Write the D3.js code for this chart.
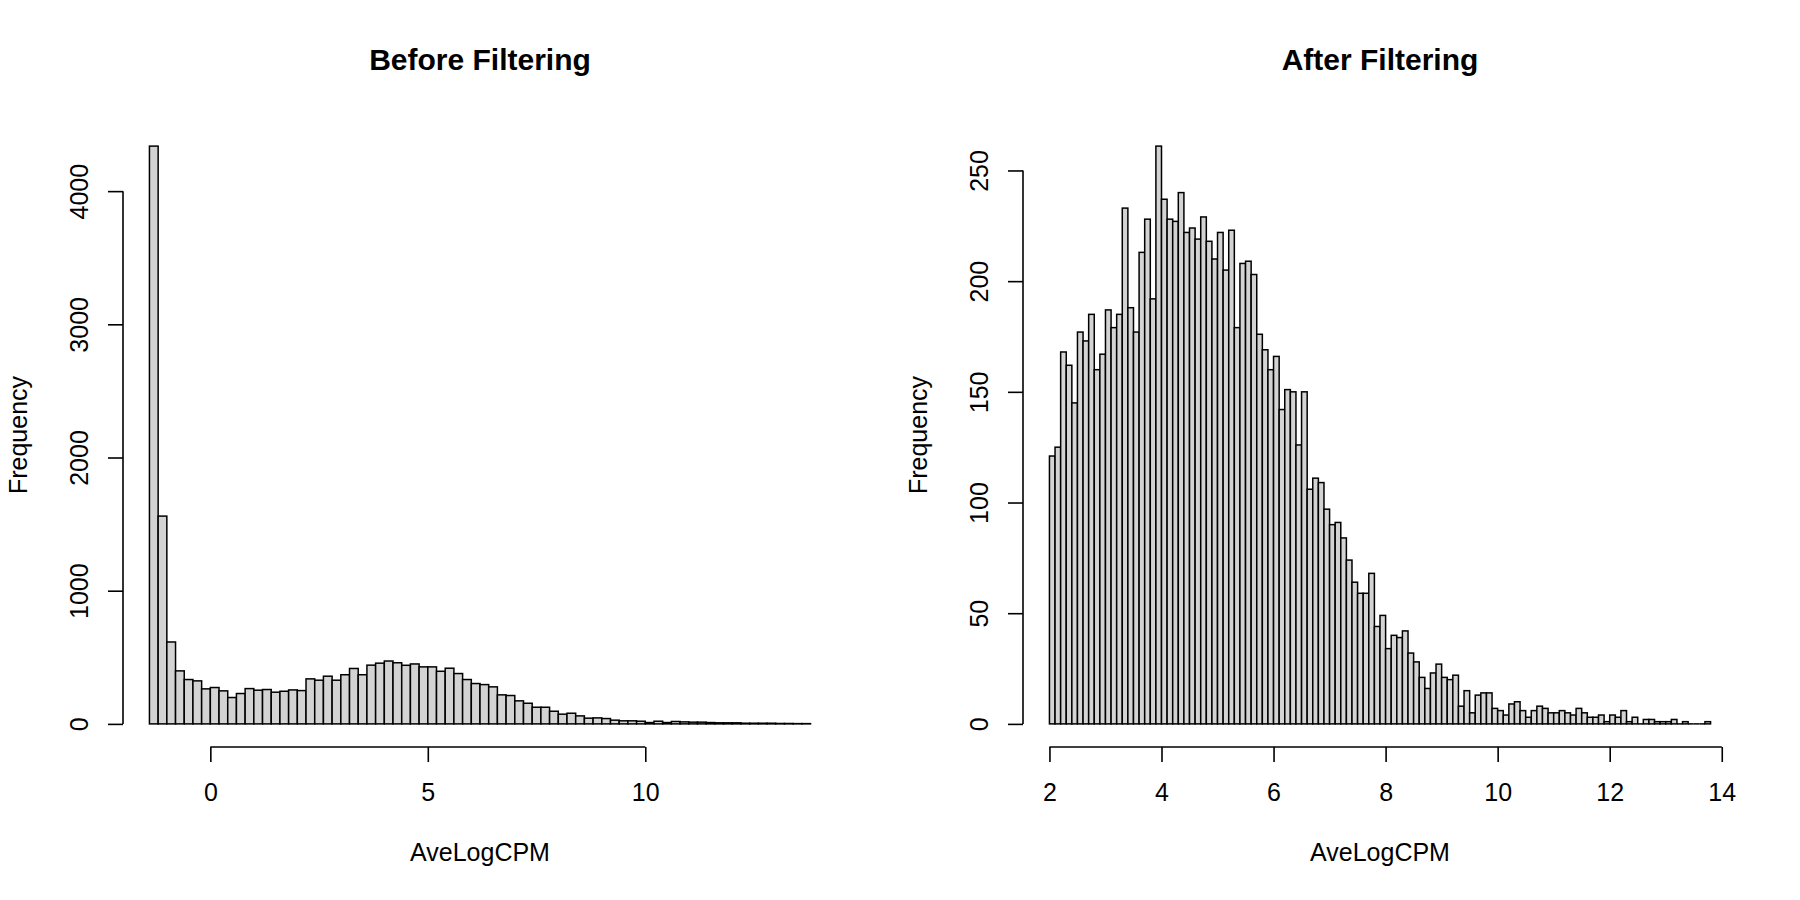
<!DOCTYPE html>
<html>
<head>
<meta charset="utf-8">
<script src="https://cdn.jsdelivr.net/npm/d3@7"></script>
<style>
body { margin: 0; background: #fff; }
text { font-family: "Liberation Sans", Arial, Helvetica, sans-serif; font-size: 25px; fill: #000; }
.title { font-size: 30px; font-weight: bold; }
.bar { fill: #d3d3d3; stroke: #000; stroke-width: 1.5; }
.empty { stroke: #000; stroke-width: 1.5; }
.axis line { stroke: #000; stroke-width: 1.6; }
</style>
</head>
<body>
<script>
// bin edges and counts
var beforeBreaks = [-1.4, -1.2, -1.0, -0.8, -0.6, -0.4, -0.2, 0, 0.2, 0.4,
    0.6, 0.8, 1.0, 1.2, 1.4, 1.6, 1.8, 2.0, 2.2, 2.4,
    2.6, 2.8, 3.0, 3.2, 3.4, 3.6, 3.8, 4.0, 4.2, 4.4,
    4.6, 4.8, 5.0, 5.2, 5.4, 5.6, 5.8, 6.0, 6.2, 6.4,
    6.6, 6.8, 7.0, 7.2, 7.4, 7.6, 7.8, 8.0, 8.2, 8.4,
    8.6, 8.8, 9.0, 9.2, 9.4, 9.6, 9.8, 10.0, 10.2, 10.4,
    10.6, 10.8, 11.0, 11.2, 11.4, 11.6, 11.8, 12.0, 12.2, 12.4,
    12.6, 12.8, 13.0, 13.2, 13.4, 13.6, 13.8];

var beforeCounts = [4338, 1560, 615, 398, 333, 323, 263, 273, 248, 198,
    228, 265, 253, 258, 238, 245, 255, 250, 338, 328,
    358, 328, 369, 416, 369, 441, 456, 472, 459,
    440, 450, 428, 428, 395, 418, 378, 333, 303, 295, 278,
    218, 213, 173, 155, 125, 125, 95, 73, 80, 60,
    43, 45, 40, 28, 23, 23, 20, 10, 20, 10,
    18, 15, 13, 13, 10, 8, 8, 8, 5, 5,
    5, 5, 3, 3, 2, 2];

var afterBreaks = [2.0, 2.1, 2.2, 2.3, 2.4, 2.5, 2.6, 2.7, 2.8, 2.9,
    3.0, 3.1, 3.2, 3.3, 3.4, 3.5, 3.6, 3.7, 3.8, 3.9,
    4.0, 4.1, 4.2, 4.3, 4.4, 4.5, 4.6, 4.7, 4.8, 4.9,
    5.0, 5.1, 5.2, 5.3, 5.4, 5.5, 5.6, 5.7, 5.8, 5.9,
    6.0, 6.1, 6.2, 6.3, 6.4, 6.5, 6.6, 6.7, 6.8, 6.9,
    7.0, 7.1, 7.2, 7.3, 7.4, 7.5, 7.6, 7.7, 7.8, 7.9,
    8.0, 8.1, 8.2, 8.3, 8.4, 8.5, 8.6, 8.7, 8.8, 8.9,
    9.0, 9.1, 9.2, 9.3, 9.4, 9.5, 9.6, 9.7, 9.8, 9.9,
    10.0, 10.1, 10.2, 10.3, 10.4, 10.5, 10.6, 10.7, 10.8, 10.9,
    11.0, 11.1, 11.2, 11.3, 11.4, 11.5, 11.6, 11.7, 11.8, 11.9,
    12.0, 12.1, 12.2, 12.3, 12.4, 12.5, 12.6, 12.7, 12.8, 12.9,
    13.0, 13.1, 13.2, 13.3, 13.4, 13.5, 13.6, 13.7, 13.8];

var afterCounts = [121, 125, 168, 162, 145, 177, 173, 185, 160, 167,
    187, 179, 185, 233, 188, 177, 213, 228, 192, 261,
    237, 228, 227, 240, 222, 224, 219, 229, 218, 210,
    222, 205, 223, 179, 208, 209,
    203, 176, 169, 160, 166, 142, 151, 150, 126, 150,
    106, 111, 109, 97, 90, 91, 84, 74, 64, 59,
    59, 68, 44, 49, 34, 40, 39, 42, 32, 28,
    21, 16, 23, 27, 21, 20, 22, 8, 15, 5,
    13, 14, 14, 7, 6,
    4, 9, 10, 6, 3, 6, 8, 7, 5, 5,
    6, 5, 4, 7, 5, 3, 3, 4, 1, 4,
    3, 6, 1, 3, 0, 2, 2, 1, 1, 1,
    2, 0, 1, 0, 0, 0, 1];

var beforeXTicks = [0, 5, 10];
var beforeYTicks = [0, 1000, 2000, 3000, 4000];
var afterXTicks = [2, 4, 6, 8, 10, 12, 14];
var afterYTicks = [0, 50, 100, 150, 200, 250];

var titles = ['Before Filtering', 'After Filtering'];
var xLabel = 'AveLogCPM';
var yLabel = 'Frequency';

var svgWidth = 1800, svgHeight = 900;
var panelWidth = 900;
// plot region inside each panel (R default margins)
var plotLeft = 123, plotRight = 837, plotTop = 123, plotBottom = 747;

var svg = d3.select('body')
    .append('svg')
    .attr('width', svgWidth)
    .attr('height', svgHeight);

function drawHist(breaks, counts, xTicks, yTicks, title, offset) {
    var lo = breaks[0], hi = breaks[breaks.length - 1];
    var span = hi - lo;
    var maxCount = d3.max(counts);

    var xScale = d3.scaleLinear()
        .domain([lo - 0.04 * span, hi + 0.04 * span])
        .range([offset + plotLeft, offset + plotRight]);

    var yScale = d3.scaleLinear()
        .domain([-0.04 * maxCount, 1.04 * maxCount])
        .range([plotBottom, plotTop]);

    var bins = counts.map(function(c, i) {
        return { x0: breaks[i], x1: breaks[i + 1], n: c };
    });

    svg.append('g')
        .selectAll('rect')
        .data(bins.filter(function(d) { return d.n > 0; }))
        .enter()
        .append('rect')
        .attr('class', 'bar')
        .attr('x', function(d) { return xScale(d.x0); })
        .attr('width', function(d) { return xScale(d.x1) - xScale(d.x0); })
        .attr('y', function(d) { return yScale(d.n); })
        .attr('height', function(d) { return yScale(0) - yScale(d.n); });

    // empty bins still show as a flat border on the baseline
    svg.append('g')
        .selectAll('line')
        .data(bins.filter(function(d) { return d.n === 0; }))
        .enter()
        .append('line')
        .attr('class', 'empty')
        .attr('x1', function(d) { return xScale(d.x0); })
        .attr('x2', function(d) { return xScale(d.x1); })
        .attr('y1', yScale(0))
        .attr('y2', yScale(0));

    // x axis: line only spans first to last tick, like base R
    var xAxis = d3.axisBottom(xScale)
        .tickValues(xTicks)
        .tickFormat(d3.format('d'))
        .tickSize(15);

    var gx = svg.append('g')
        .attr('class', 'axis')
        .attr('transform', `translate(0, ${plotBottom})`)
        .call(xAxis);
    gx.select('.domain').remove();
    gx.append('line')
        .attr('x1', xScale(xTicks[0]))
        .attr('x2', xScale(xTicks[xTicks.length - 1]))
        .attr('y1', 0)
        .attr('y2', 0);
    gx.selectAll('.tick text')
        .attr('y', 54)
        .attr('dy', null);

    var yAxis = d3.axisLeft(yScale)
        .tickValues(yTicks)
        .tickFormat(d3.format('d'))
        .tickSize(15);

    var gy = svg.append('g')
        .attr('class', 'axis')
        .attr('transform', `translate(${offset + plotLeft}, 0)`)
        .call(yAxis);
    gy.select('.domain').remove();
    gy.append('line')
        .attr('x1', 0)
        .attr('x2', 0)
        .attr('y1', yScale(yTicks[0]))
        .attr('y2', yScale(yTicks[yTicks.length - 1]));
    gy.selectAll('.tick text')
        .attr('transform', 'rotate(-90)')
        .attr('x', 0)
        .attr('y', -35)
        .attr('dy', null)
        .attr('text-anchor', 'middle');

    var cx = offset + (plotLeft + plotRight) / 2;

    svg.append('text')
        .attr('class', 'title')
        .attr('x', cx)
        .attr('y', 70)
        .attr('text-anchor', 'middle')
        .text(title);

    svg.append('text')
        .attr('x', cx)
        .attr('y', 861)
        .attr('text-anchor', 'middle')
        .text(xLabel);

    svg.append('text')
        .attr('transform', `translate(${offset + 27}, ${(plotTop + plotBottom) / 2}) rotate(-90)`)
        .attr('text-anchor', 'middle')
        .text(yLabel);
}

drawHist(beforeBreaks, beforeCounts, beforeXTicks, beforeYTicks, titles[0], 0);
drawHist(afterBreaks, afterCounts, afterXTicks, afterYTicks, titles[1], panelWidth);
</script>
</body>
</html>
